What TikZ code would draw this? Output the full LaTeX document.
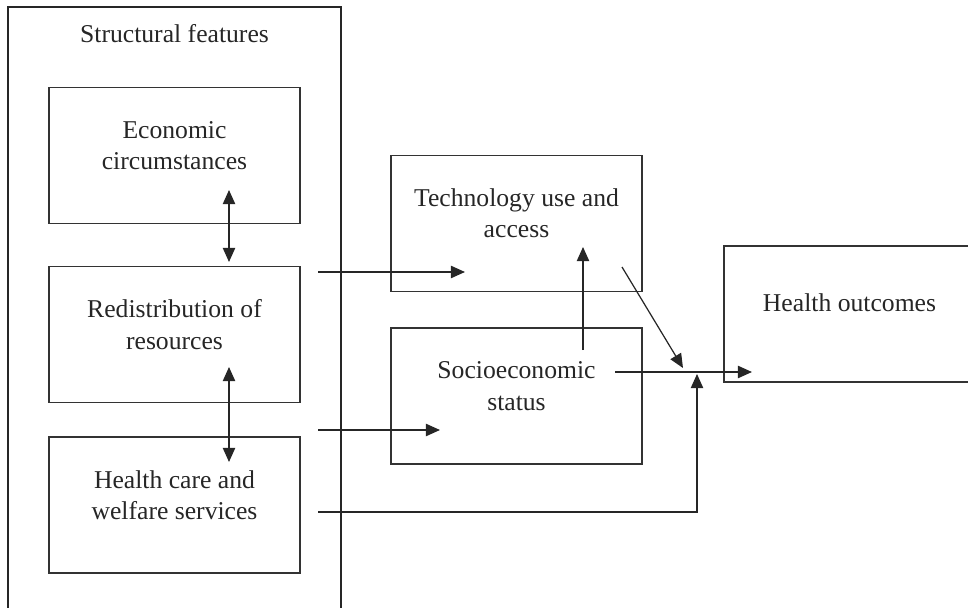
\documentclass[tikz,border=0pt]{standalone}
\usepackage{fontspec}
\setmainfont{Liberation Serif}
\usetikzlibrary{arrows.meta, positioning, calc}

\begin{document}
\begin{tikzpicture}[x=0.02cm, y=-0.02cm, font=\fontsize{14.6}{17.8}\selectfont]
\tikzstyle{frame} = [rectangle, draw=black!85, line width=1.3pt, minimum width=6.66cm, minimum height=12.2cm, inner sep=0pt]
\tikzstyle{box} = [rectangle, draw=black!80, line width=0.75pt, minimum width=5.02cm, minimum height=2.72cm, inner sep=0pt]
\tikzstyle{txt} = [align=center, text=black!85, inner sep=0pt]
\tikzstyle{line} = [draw, -{Triangle[length=8pt, width=7pt]}, black!85, line width=0.7pt]
\tikzstyle{both} = [line, {Triangle[length=8pt, width=7pt]}-{Triangle[length=8pt, width=7pt]}]

\useasboundingbox (0,0) rectangle (968,608);
\clip (0,0) rectangle (968,608);

\node (structural) [frame] at (174.5,312) {};
\node (title) [txt] at (174.5,34) {Structural features};

\node (econ) [box] at (174.5,155.5) {};
\node (redist) [box] at (174.5,334.5) {};
\node (care) [box] at (174.5,505) {};
\node (tech) [box] at (516.5,223.5) {};
\node (ses) [box] at (516.5,396) {};
\node (health) [box] at (849.5,314) {};

\node (econtxt) [txt] at ([yshift=0.2cm]econ.center) {Economic\\circumstances};
\node (redisttxt) [txt] at ([yshift=0.2cm]redist.center) {Redistribution of\\resources};
\node (caretxt) [txt] at ([yshift=0.2cm]care.center) {Health care and\\welfare services};
\node (techtxt) [txt] at ([yshift=0.2cm]tech.center) {Technology use and\\access};
\node (sestxt) [txt] at ([yshift=0.2cm]ses.center) {Socioeconomic\\status};
\node (healthtxt) [txt] at ([yshift=0.22cm]health.center) {Health outcomes};

% free ends of the connectors
\coordinate (e1) at (229,190);
\coordinate (e2) at (229,262);
\coordinate (r1) at (229,367);
\coordinate (r2) at (229,462);
\coordinate (a1) at (318,272);
\coordinate (a2) at (465,272);
\coordinate (b1) at (318,430);
\coordinate (b2) at (440,430);
\coordinate (c1) at (318,512);
\coordinate (join) at (697,374);
\coordinate (s1) at (583,350);
\coordinate (s2) at (583,247);
\coordinate (t1) at (622,267);
\coordinate (t2) at (683,368);
\coordinate (h1) at (615,372);
\coordinate (h2) at (752,372);

\draw [both] (e1) -- (e2);
\draw [both] (r1) -- (r2);
\draw [line] (a1) -- (a2);
\draw [line] (b1) -- (b2);
\draw [line] (c1) -| (join);
\draw [line] (s1) -- (s2);
\draw [line] (t1) -- (t2);
\draw [line] (h1) -- (h2);
\end{tikzpicture}
\end{document}
